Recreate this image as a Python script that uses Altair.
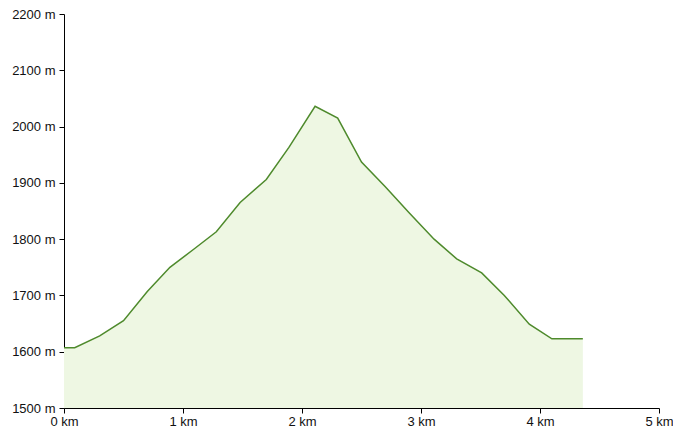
import altair as alt
import pandas as pd

distance_km = [0, 0.09, 0.30, 0.50, 0.70, 0.89, 1.09, 1.28, 1.48, 1.70, 1.89, 2.11,
               2.30, 2.50, 2.70, 2.90, 3.11, 3.30, 3.51, 3.70, 3.91, 4.10, 4.36]
elevation_m = [1607, 1607, 1628, 1655, 1707, 1750, 1782, 1813, 1865, 1906, 1963, 2036,
               2015, 1937, 1893, 1847, 1800, 1765, 1740, 1700, 1649, 1623, 1623]
x_ticks = [0, 1, 2, 3, 4, 5]
y_ticks = [1500, 1600, 1700, 1800, 1900, 2000, 2100, 2200]

df = pd.DataFrame({"km": distance_km, "m": elevation_m})

x_enc = alt.X("km:Q", scale=alt.Scale(domain=[0, 5], nice=False),
              axis=alt.Axis(values=x_ticks, labelExpr="datum.value + ' km'", title=None,
                            grid=False, domainColor="black", tickColor="black",
                            labelColor="#111", labelFontSize=13, labelFont="Liberation Sans",
                            tickSize=5, labelPadding=2, labelFlush=False))
y_enc = alt.Y("m:Q", scale=alt.Scale(domain=[1500, 2200], nice=False, zero=False),
              axis=alt.Axis(values=y_ticks, labelExpr="datum.value + ' m'", title=None,
                            grid=False, domainColor="black", tickColor="black",
                            labelColor="#111", labelFontSize=13, labelFont="Liberation Sans",
                            tickSize=5, labelPadding=4))

area = alt.Chart(df).mark_area(color="#eef7e3", opacity=1).encode(
    x=x_enc, y=y_enc, y2=alt.datum(1500))
line = alt.Chart(df).mark_line(color="#4e8a2c", strokeWidth=1.5).encode(x=x_enc, y=y_enc)

chart = alt.layer(area, line).properties(
    width=595, height=394,
    autosize=alt.AutoSizeParams(type="none"),
    padding={"left": 56, "top": 6, "right": 14, "bottom": 20},
).configure_view(stroke=None)

chart.save("out.html", embed_options={"renderer": "svg", "actions": False})
